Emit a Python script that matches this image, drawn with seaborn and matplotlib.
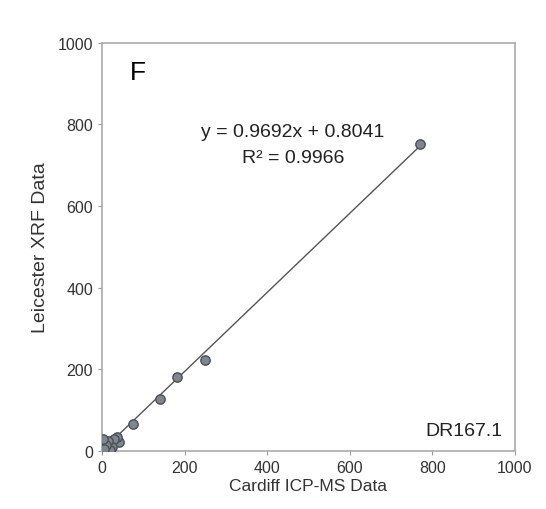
import numpy as np
import pandas as pd
import matplotlib
matplotlib.use("Agg")
import matplotlib.pyplot as plt
import seaborn as sns

#%% data
cardiff_icpms = [770, 249, 181, 140, 75, 40, 35, 30, 25, 20, 15, 10, 5, 3]
leicester_xrf = [752, 222, 182, 128, 66, 22, 35, 30, 10, 2, 25, 15, 5, 30]
slope = 0.9692
intercept = 0.8041
r2 = 0.9966
panel = "F"
sample = "DR167.1"

df = pd.DataFrame({'icpms': cardiff_icpms, 'xrf': leicester_xrf})

#%% plot
sns.set_theme(style='white')
plt.rcParams['font.family'] = ['Liberation Sans', 'DejaVu Sans']

fig = plt.figure(figsize=(5.46, 5.1), dpi=100)
ax = fig.add_axes([0.187, 0.114, 0.756, 0.80])

# trendline from the stated equation
xfit = np.array([min(cardiff_icpms), max(cardiff_icpms)])
sns.lineplot(x=xfit, y=slope * xfit + intercept, color='#555555', linewidth=1.0, ax=ax)
sns.scatterplot(data=df, x='icpms', y='xrf', s=45, color='#80868c', edgecolor='#4a5058',
                linewidth=1.0, ax=ax, zorder=3)

ax.set_xlim(0, 1000)
ax.set_ylim(0, 1000)
ax.set_xticks([0, 200, 400, 600, 800, 1000])
ax.set_yticks([0, 200, 400, 600, 800, 1000])
ax.tick_params(axis='both', which='both', direction='out', length=3, width=0.8,
               colors='#999999', labelcolor='#333333', labelsize=11.5, bottom=True, left=True)
for s in ax.spines.values():
    s.set_color('#aaaaaa')
    s.set_linewidth(1.2)

ax.set_xlabel('Cardiff ICP-MS Data', fontsize=12.5, color='#333333', labelpad=2)
ax.set_ylabel('Leicester XRF Data', fontsize=14, color='#333333', labelpad=6)

ax.text(0.068, 0.929, panel, transform=ax.transAxes, fontsize=19, color='black', va='center')
ax.text(0.462, 0.782, f'y = {slope}x + {intercept}', transform=ax.transAxes,
        fontsize=14, color='#222222', ha='center', va='center')
ax.text(0.462, 0.72, f'R² = {r2}', transform=ax.transAxes,
        fontsize=14, color='#222222', ha='center', va='center')
ax.text(0.971, 0.049, sample, transform=ax.transAxes, fontsize=14, color='#222222',
        ha='right', va='center')

fig.savefig('out.png', dpi=100)
